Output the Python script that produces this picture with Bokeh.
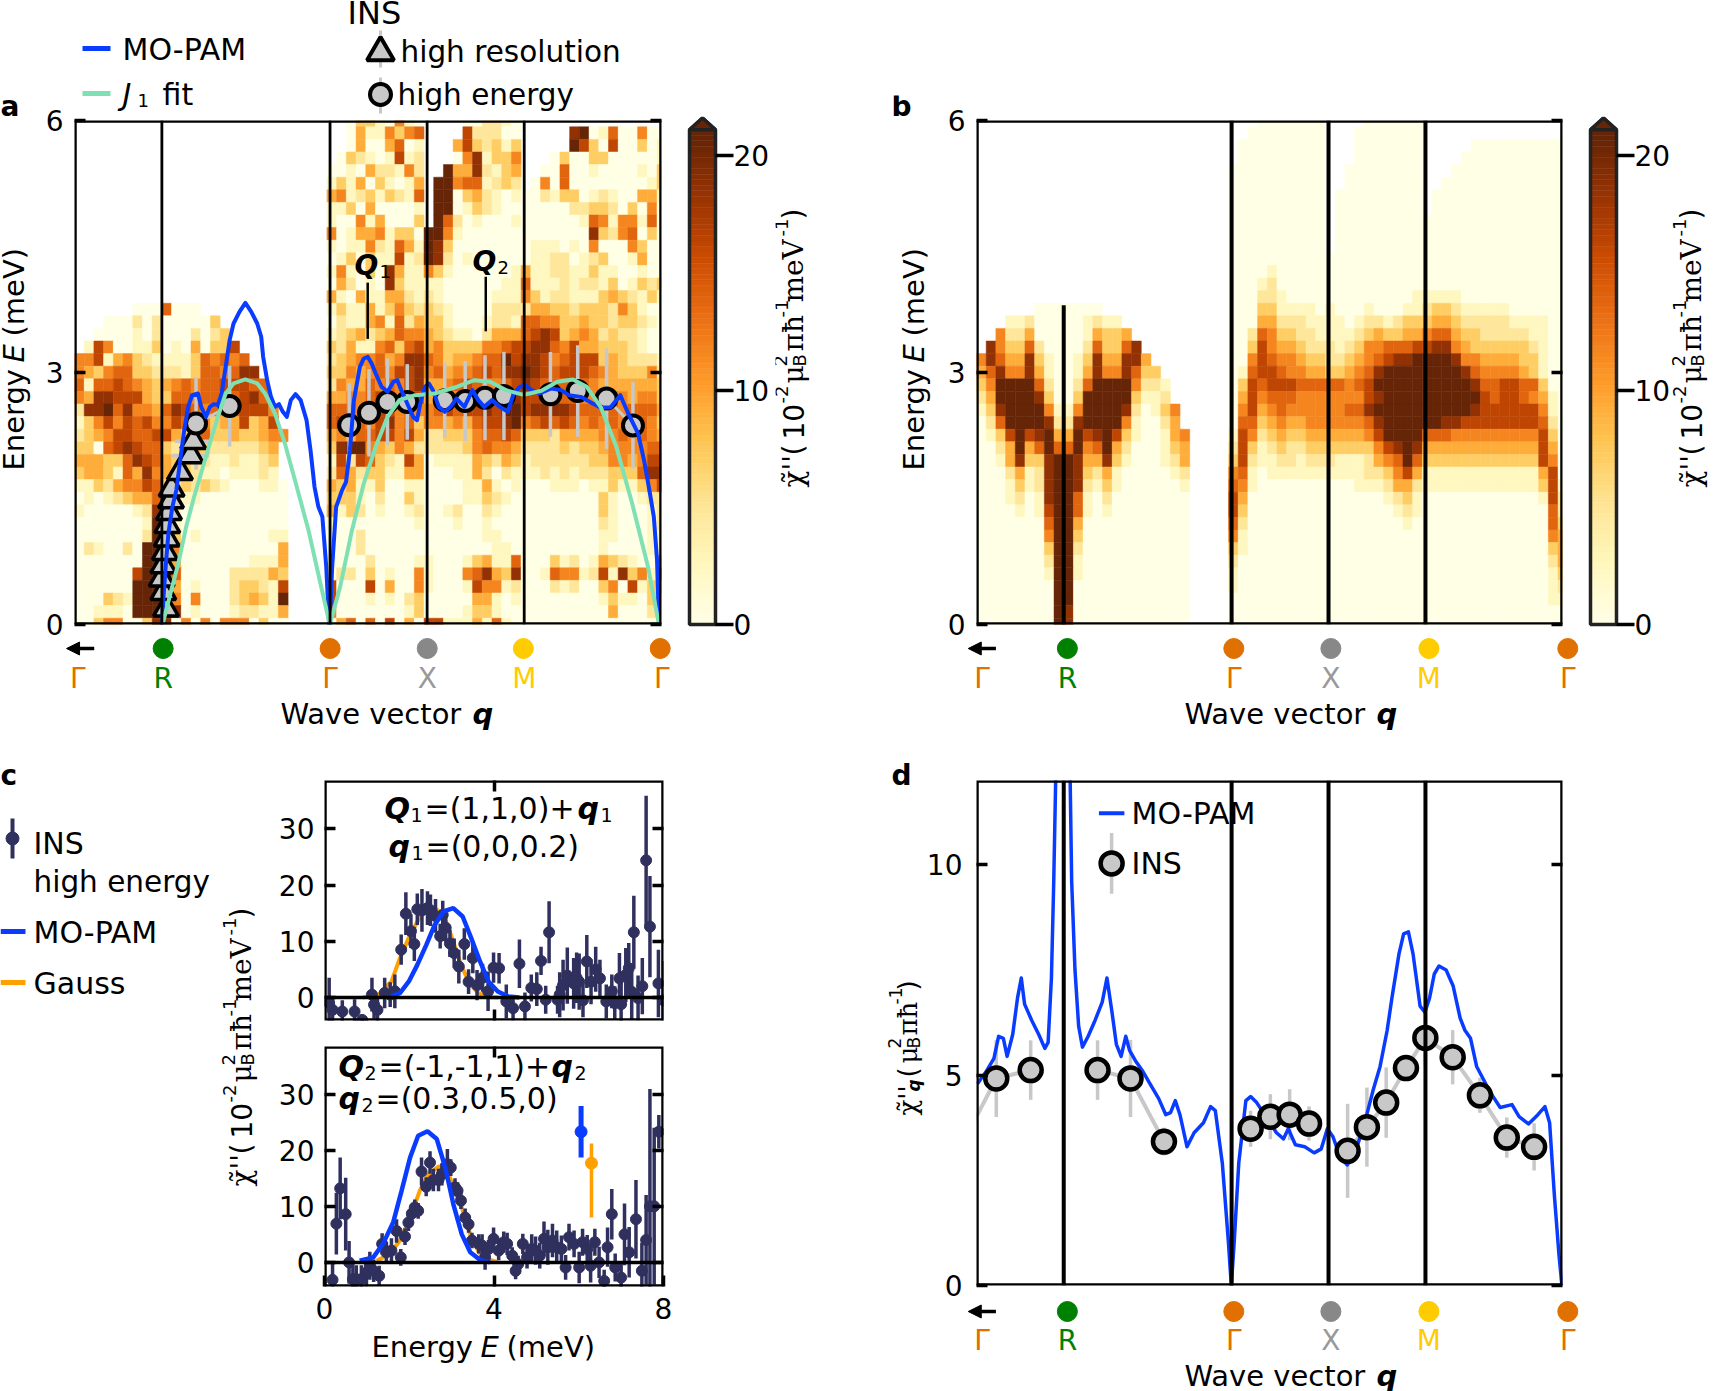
import math

import numpy as np
from bokeh.core.properties import value
from bokeh.embed import file_html
from bokeh.layouts import column, row
from bokeh.models import (Arrow, BoxAnnotation, FixedTicker, Label, LinearAxis, LinearColorMapper,
                          NormalHead, Range1d, Spacer, Span)
from bokeh.palettes import YlOrBr, interp_palette
from bokeh.plotting import figure
from bokeh.resources import INLINE
from bokeh.transform import transform

# path positions along the wave vector axis
Q_END = 6.046
Q_LINES = [0.9, 2.632, 3.632, 4.632]
Q_TEXT = ["Γ", "R", "Γ", "X", "M", "Γ"]
Q_COLORS = ["#e07000", "#008000", "#e07000", "#999999", "#ffcc00", "#e07000"]
DOT_COLORS = ["#008000", "#e07000", "#888888", "#ffcc00", "#e07000"]
LABEL_Q_A = [0.03, 0.91, 2.63, 3.63, 4.63, 6.045]
DOT_Q_A = [0.91, 2.63, 3.63, 4.62, 6.03]
LABEL_Q_B = [0.056, 0.936, 2.65, 3.65, 4.66, 6.09]
DOT_Q_B = [0.936, 2.65, 3.65, 4.66, 6.09]

# heat maps: levels 0-9 per cell, "." is no data, rows run from top (5.9+ meV) to E=0
# each row is: before Gamma | Gamma-X | X-M | M-Gamma
HEAT_A = [
    "|..03310510|....002210|",
    "|..04115356|....722200|.....8901600500",
    "|..04004601|...4732313|.....9730700301",
    "|.032101712|...0581335|...030033000001",
    "|0010422152|..94482134|..0060010000103",
    "|1314031014|.995661232|.05060000000013",
    "|4512313216|.990342101|002133012100441",
    "|1130400001|.990132100|000002233203050",
    "|1005140003|.962010001|000000165155160",
    "|5014451330|9951000000|000000083256030",
    "|1011521641|9830000000|011101050005300",
    "|0130311712|9820100000|011220123001400",
    "|1510308411|5310000001|411221131100100",
    "|0420108311|1100000011|611121221301323",
    "|4104114421|2100000111|531221113432131",
    "......0006000|1311413532|3210000222|244332333253100",
    "...000202000003|0211451624|3310001221|665533433233210",
    "..00001020002023|1234234655|4321102444|678734542322100",
    ".1750011301040337|3241156367|4533335567|788657443332100",
    "557145321111365656|2345564588|6534456697|887567773432221",
    "5435663322213665688|3354565778|5645567688|987677765433352",
    "61667654345656677766|2544656578|4456765567|876665654444443",
    "54887774336656666786|4455676567|4445677568|777766556554553",
    "288968554687656567775|6665577565|5676778799|788887666656664",
    "135757675576553447347|6776578563|5545467789|567676565657653",
    "2345776677434633433455|4546677574|2233356676|333244445565654",
    "330678766324432222234|3899543542|2222356554|222232334555566",
    "444336876433221121123|1727632174|0111143243|122222233554577",
    "344316485433211011121|2642331144|0001142021|112121222333688",
    "1132455763232321000110|4341130011|0000114101|000111011311357",
    "0101234463211000000000|3331020031|0000113210|000000003100122",
    "1000001285100000000000|4132010012|0012002100|000000003100012",
    "0000000198100000000000|1000000001|0001001000|000000002100012",
    "0000000299301000000011|0002000000|0000001100|000000001100011",
    "0210020999500000000004|0002000000|0000000110|000000001000011",
    "0000000999400000001114|1000200001|1000134116|000312014321004",
    "0000007999600000222243|0220301005|1000568438|001655127183517",
    "0000009999401000233217|7000704005|1000175512|000212003507134",
    "0003219999505000234319|7000101023|0000044101|000000001311031",
    "0011109999801000122114|5000000013|0000133100|000000000400021",
    "0035500388050505550300|0460607040|7711141610|000000000000000",
]
HEAT_B = [
    "|...0000000|....000000|",
    "|..00000000|...0000000|",
    "|.000000000|...0000000|.....0000000000",
    "|.000000000|...0000000|....00000000000",
    "|0000000000|..00000000|...000000000000",
    "|0000000000|..00000000|..0000000000000",
    "|0000000000|.000000000|.00000000000000",
    "|0000000000|.000000000|.00000000000000",
    "|0000000000|.000000000|000000000000000",
    "|0000000000|.000000000|000000000000000",
    "|0000000000|.000000000|000000000000000",
    "|0000000000|0000000000|000000000000000",
    "|0000100000|0000000000|000000000000000",
    "|0001200000|0000000000|000000000000000",
    "|0002210000|0000000001|111100000000000",
    "......0000000|0003311110|1000100011|233211111000000",
    "...112000001211|0004422211|1101221233|344322222111100",
    "..52240000014334|0026533221|1112343344|566433222221100",
    ".8533620000263368|0037544322|2123556667|788543333332100",
    "586448310013844884|0057655433|2234567889|999855444433100",
    "4685584100148558633|0167765544|3345689999|999986555543100",
    "35999962002699995221|0376777666|6656799999|999998667766300",
    "24999983003999993112|0475666555|5555789999|999999767765410",
    "138999951159999820135|0574565555|5566899999|999998777777510",
    "026999982289999510024|0663454455|5555689999|998877777777620",
    "0137978944978973100145|1752343344|4444579999|666555555555730",
    "0024946966956942000134|2731232233|3333357898|444444444444740",
    "0014833899844831000124|3721122122|2111245696|333333333333750",
    "0002412899832410000012|5610111111|1111223574|111111111111470",
    "0001312899821310000001|6510000000|0001112442|111111111111371",
    "0001201899610200000000|7400000000|0000001231|000000000000172",
    "0000101799610100000000|7300000000|0000000121|000000000000062",
    "0000000699400000000000|6200000000|0000000010|000000000000063",
    "0000000599300000000000|5100000000|0000000000|000000000000054",
    "0000000399200000000000|3100000000|0000000000|000000000000034",
    "0000000299100000000000|2000000000|0000000000|000000000000024",
    "0000000199100000000000|1000000000|0000000000|000000000000013",
    "0000000099000000000000|1000000000|0000000000|000000000000012",
    "0000000099000000000000|0000000000|0000000000|000000000000011",
    "0000000098000000000000|0000000000|0000000000|000000000000000",
    "0000000098000000000000|0000000000|0000000000|000000000000000",
]
SEGMENTS = [26, 10, 10, 15]
LEVEL_STEP = 2.3
Q_STEP = 0.1
E_STEP = 0.15

# panel a
PAM_A_Q = [0.902, 0.915, 0.939, 0.967, 1.008, 1.049, 1.089, 1.13, 1.171, 1.211, 1.272, 1.305, 1.354, 1.394, 1.435,
           1.476, 1.516, 1.557, 1.598, 1.638, 1.699, 1.76, 1.821, 1.882, 1.923, 1.943, 1.984, 2.024, 2.065, 2.106,
           2.146, 2.187, 2.228, 2.276, 2.329, 2.39, 2.431, 2.472, 2.512, 2.553, 2.593, 2.622, 2.63, 2.654, 2.695,
           2.756, 2.797, 2.837, 2.878, 2.939, 2.98, 3.02, 3.061, 3.102, 3.163, 3.224, 3.285, 3.325, 3.366, 3.427,
           3.488, 3.528, 3.569, 3.61, 3.65, 3.691, 3.752, 3.813, 3.874, 3.935, 4.016, 4.098, 4.159, 4.22, 4.301,
           4.382, 4.463, 4.524, 4.585, 4.646, 4.707, 4.789, 4.911, 5.012, 5.093, 5.215, 5.337, 5.419, 5.52, 5.622,
           5.703, 5.805, 5.866, 5.927, 5.967, 6.0, 6.02]
PAM_A_E = [0, 0.29, 0.687, 1.083, 1.4, 1.6, 1.956, 2.313, 2.591, 2.73, 2.75, 2.591, 2.472, 2.591, 2.623,
           2.611, 2.75, 3.067, 3.385, 3.583, 3.722, 3.829, 3.722, 3.583, 3.425, 3.187, 2.909, 2.71, 2.591, 2.623,
           2.532, 2.472, 2.671, 2.742, 2.671, 2.433, 2.075, 1.639, 1.401, 1.282, 0.687, 0, 0, 0.687, 1.401,
           1.6, 1.698, 2.075, 2.671, 3.067, 3.167, 3.187, 3.107, 2.988, 2.829, 2.77, 2.889, 2.909, 2.79, 2.631,
           2.472, 2.433, 2.671, 2.829, 2.869, 2.79, 2.591, 2.532, 2.591, 2.69, 2.591, 2.79, 2.671, 2.591, 2.671,
           2.591, 2.532, 2.75, 2.829, 2.849, 2.79, 2.75, 2.81, 2.79, 2.73, 2.71, 2.631, 2.583, 2.583, 2.73,
           2.512, 2.274, 1.956, 1.56, 1.282, 0.766, 0]
FIT_Q = [0.907, 0.988, 1.069, 1.15, 1.232, 1.313, 1.394, 1.476, 1.557, 1.638, 1.76, 1.882, 1.963, 2.065, 2.167,
         2.289, 2.41, 2.533, 2.63, 2.736, 2.858, 2.98, 3.102, 3.224, 3.346, 3.508, 3.711, 3.915, 4.118, 4.28,
         4.443, 4.626, 4.809, 4.972, 5.134, 5.276, 5.419, 5.581, 5.744, 5.907, 6.02]
FIT_E = [0, 0.37, 0.726, 1.163, 1.52, 1.837, 2.155, 2.472, 2.75, 2.87, 2.917, 2.87, 2.75, 2.51, 2.155,
         1.64, 1.123, 0.488, 0, 0.448, 1.123, 1.679, 2.115, 2.472, 2.67, 2.73, 2.75, 2.821, 2.909, 2.889,
         2.79, 2.734, 2.782, 2.889, 2.917, 2.83, 2.591, 2.115, 1.44, 0.687, 0]
HE_Q = [1.252, 1.598, 2.829, 3.033, 3.224, 3.427, 3.813, 4.024, 4.228, 4.423, 4.902, 5.183, 5.48, 5.752]
HE_E = [2.393, 2.6, 2.373, 2.52, 2.65, 2.65, 2.67, 2.66, 2.7, 2.72, 2.74, 2.78, 2.69, 2.37]
HE_ERR = [0.55, 0.48, 0.5, 0.52, 0.516, 0.45, 0.45, 0.476, 0.506, 0.526, 0.504, 0.544, 0.6, 0.516]
HR_Q = [0.942, 0.915, 0.898, 0.915, 0.932, 0.95, 0.956, 0.973, 0.994, 1.0, 1.086, 1.196, 1.223]
HR_E = [0.186, 0.385, 0.544, 0.702, 0.861, 1.02, 1.18, 1.337, 1.476, 1.615, 1.813, 2.012, 2.182]
HR_QERR = [0.03, 0.03, 0.03, 0.03, 0.03, 0.03, 0.03, 0.03, 0.03, 0.03, 0.05, 0.19, 0.19]
MARK_Q = [3.02, 4.236]
MARK_LOW = [3.4, 3.49]
MARK_HIGH = [4.07, 4.14]

# panel c, top
C1_E = [0.11, 0.19, 0.42, 0.71, 0.89, 1.12, 1.17, 1.25, 1.42, 1.55, 1.66, 1.81, 1.92, 2.04, 2.12, 2.19, 2.3, 2.43,
        2.5, 2.62, 2.73, 2.79, 2.86, 2.96, 3.06, 3.17, 3.3, 3.4, 3.5, 3.6, 3.73, 3.86, 3.99, 4.12, 4.29, 4.45, 4.6,
        4.73, 4.88, 5.01, 5.11, 5.22, 5.3, 5.5, 5.55, 5.63, 5.73, 5.88, 5.95, 6.01, 6.1, 6.19, 6.29, 6.4, 6.5, 6.65,
        6.78, 6.85, 6.96, 7.0, 7.11, 7.18, 7.25, 7.3, 7.4, 7.5, 7.59, 7.68, 7.88, 8.0]
C1_V = [-1.0, -2.2, -2.5, -2.5, -4, 0.5, -1.3, -2.2, 0.8, 0.5, 1.1, 8.5, 14.9, 11.8, 9.5, 15.7, 15.5, 15.9,
        15.5, 14.5, 10.9, 14.7, 12.4, 9.6, 7.9, 5.5, 9.5, 2.8, 7.0, 2.2, 3.5, 1.1, 5.3, 5.2, -0.7, -1.9, 6.0,
        -1.6, 1.7, 1.5, 6.5, -0.4, 11.6, -0.4, 0.5, 2.2, 3.9, 2.5, 3.5, 2.8, -0.5, 6.4, 2.8, 5, 3.4, -0.7,
        1.1, -1, 3.4, -1.2, 4.0, 5.2, 1, 11.6, -0.1, 2.0, 24.4, 12.6, 2.5, -0.5]
C1_ERR = [4.5, 2, 2, 2.2, 1, 3, 2.5, 2.5, 2.7, 2.2, 3, 2.7, 3.8, 3, 3, 2.8, 3.8, 3,
          2.8, 3, 2.2, 2.5, 2.5, 2.4, 2.6, 3, 2.8, 2.2, 2.7, 2.7, 2.5, 3.5, 2.7, 2.7, 3, 2.2, 4.3,
          2.5, 2.4, 3, 2.5, 2.5, 5.5, 2.5, 4, 4.5, 5, 4.5, 4.5, 5, 3, 4.7, 4, 4, 3.3, 3,
          3, 3, 4.5, 4, 4.8, 4.5, 5, 6.5, 4, 5, 11.5, 9, 6, 7]
C1_PAM_E = [1.58, 1.78, 1.99, 2.19, 2.4, 2.6, 2.81, 3.04, 3.26, 3.46, 3.67, 3.87, 4.09, 4.34, 4.6]
C1_PAM_V = [0.18, 0.77, 2.85, 5.8, 9.3, 12.9, 15.3, 15.9, 14.4, 10.6, 6.4, 2.85, 1.07, 0.18, 0]
C1_GAUSS_E = [0.9, 1.27, 1.58, 1.78, 1.99, 2.19, 2.35, 2.6, 2.81, 3.01, 3.22, 3.42, 3.63, 3.83, 4.1]
C1_GAUSS_V = [0, 0.47, 2.85, 7, 10.6, 13.5, 15.3, 15.9, 14.7, 10.6, 5.8, 2.55, 0.77, 0.06, 0]

# panel c, bottom
C2_E = [0.19, 0.28, 0.37, 0.5, 0.58, 0.67, 0.75, 0.87, 0.99, 1.07, 1.16, 1.29, 1.36, 1.46, 1.58, 1.7, 1.8, 1.9, 1.98,
        2.06, 2.13, 2.21, 2.29, 2.4, 2.49, 2.57, 2.69, 2.77, 2.9, 2.98, 3.08, 3.14, 3.22, 3.32, 3.4, 3.48, 3.64, 3.72,
        3.79, 3.87, 3.99, 4.11, 4.23, 4.31, 4.43, 4.51, 4.57, 4.68, 4.78, 4.89, 4.98, 5.08, 5.18, 5.27, 5.38, 5.48,
        5.59, 5.69, 5.77, 5.89, 6.01, 6.09, 6.2, 6.28, 6.38, 6.48, 6.6, 6.68, 6.78, 6.86, 7.0, 7.08, 7.19, 7.35, 7.49,
        7.59, 7.68, 7.78, 7.89]
C2_V = [-3.1, 6.9, 13.2, 8.6, 0, -3, -3, -3, -1.8, -0.6, -1.5, -2.4, 3.3, 1.8, 2.1, 5.6, 0.9, 4.6, 7.1,
        8.7, 9.8, 9.2, 16.2, 13.5, 17.8, 14.7, 14.7, 15.7, 17.5, 16.9, 13.4, 12.8, 11, 8, 6.8, 3.9, 3.3, 3,
        0.9, 2.4, 4.2, 2.1, 3.6, 3.3, 1.2, -1.5, -0.3, 3.3, 0.9, 2.4, 2.1, 1.2, 4.2, 2.7, 3.9, 2.7,
        2.4, -0.9, 4.5, 3.3, -0.9, 3.6, 2.4, -0.6, 3.6, 0, -3.3, 2.7, 8.6, -0.9, -2.7, 5, 1.8, 7.7, -1.5,
        4, 10, 10, 23.3]
C2_ERR = [3, 5.5, 5.5, 6.5, 3.8, 2.5, 2.5, 2.5, 2.5, 2.5, 2, 1.8, 1.9, 1.8, 2.2, 2.1, 1.5, 1.5, 1.5,
          1.5, 1.4, 1.4, 2.5, 1.7, 2, 2, 2, 2, 2.7, 1.5, 1.6, 1.5, 1.5, 1.6, 1.5, 1.4, 1.7, 2,
          2.2, 1.6, 2, 1.7, 1.9, 2, 1.5, 1.5, 1.5, 1.8, 2, 2.6, 2.5, 2.3, 3.1, 3.1, 3, 3,
          2.4, 2.2, 2.4, 2.4, 2.8, 2.4, 2.5, 3, 2.4, 2.8, 2, 3.5, 4.5, 2.5, 2.5, 5.5, 4.5, 7, 5,
          8, 20.9, 14, 3]
C2_PAM_E = [0.83, 1.15, 1.38, 1.62, 1.82, 2.02, 2.21, 2.43, 2.65, 2.85, 3.04, 3.24, 3.44, 3.68, 3.91]
C2_PAM_V = [0.3, 0.9, 3.3, 7.1, 12.8, 18.7, 22.6, 23.4, 22, 16.9, 10.4, 5, 1.8, 0.4, 0]
C2_GAUSS_E = [1.23, 1.54, 1.78, 2.02, 2.25, 2.45, 2.69, 2.89, 3.04, 3.24, 3.44, 3.64, 3.83, 4.07]
C2_GAUSS_V = [0.3, 1.5, 3.9, 8, 12.8, 15.7, 17.1, 16.6, 13.4, 9.8, 5, 1.8, 0.6, 0.1]
PEAK_E = [6.055, 6.3]
PEAK_V = [23.3, 17.7]
PEAK_LOW = [18.7, 8.0]
PEAK_HIGH = [27.9, 21.2]

# panel d
PAM_D_Q = [0.01, 0.107, 0.18, 0.228, 0.277, 0.316, 0.374, 0.423, 0.462, 0.496, 0.569, 0.641, 0.705, 0.739, 0.773,
           0.797, 0.825, 0.96, 0.982, 1.016, 1.054, 1.093, 1.152, 1.224, 1.297, 1.346, 1.395, 1.443, 1.492, 1.54,
           1.579, 1.638, 1.71, 1.783, 1.88, 1.953, 2.002, 2.051, 2.099, 2.172, 2.245, 2.342, 2.415, 2.464, 2.536,
           2.6, 2.629, 2.658, 2.706, 2.779, 2.828, 2.891, 2.974, 3.095, 3.168, 3.217, 3.29, 3.387, 3.484, 3.557,
           3.62, 3.678, 3.751, 3.824, 3.897, 3.994, 4.091, 4.164, 4.237, 4.286, 4.359, 4.407, 4.456, 4.504, 4.577,
           4.626, 4.674, 4.723, 4.772, 4.845, 4.918, 4.99, 5.039, 5.097, 5.16, 5.258, 5.33, 5.403, 5.525, 5.598,
           5.695, 5.792, 5.865, 5.913, 5.962, 6.01, 6.04]
PAM_D_V = [4.795, 5.11, 5.396, 5.92, 5.874, 5.444, 5.969, 6.829, 7.307, 6.686, 6.304, 5.969, 5.635, 5.778, 7.307,
           9.599, 13, 13, 9.6, 7.498, 6.16, 5.664, 5.922, 6.304, 6.734, 7.307, 6.543, 5.731, 5.444, 5.922,
           5.587, 5.349, 5.11, 4.823, 4.441, 4.059, 4.107, 4.394, 4.059, 3.295, 3.629, 3.868, 4.25, 4.155, 2.913,
           1.003, 0, 1.003, 2.913, 4.394, 4.489, 4.346, 4.059, 3.629, 3.486, 3.725, 3.343, 3.295, 3.152, 3.247,
           3.725, 3.534, 3.056, 2.865, 3.104, 3.773, 4.632, 5.205, 6.065, 6.829, 7.88, 8.357, 8.405, 7.88, 6.638,
           6.495, 6.829, 7.402, 7.593, 7.498, 7.116, 6.352, 6.065, 5.874, 5.205, 4.776, 4.489, 4.231, 4.298, 4.011,
           3.84, 4.059, 4.25, 3.868, 2.149, 0.716, 0]
INS_Q = [0.204, 0.559, 1.249, 1.589, 1.934, 2.828, 3.032, 3.231, 3.431, 3.829, 4.028, 4.227, 4.431, 4.631, 4.913,
         5.194, 5.471, 5.753]
INS_V = [4.919, 5.119, 5.119, 4.919, 3.419, 3.725, 4.011, 4.059, 3.849, 3.2, 3.763, 4.346, 5.167, 5.883, 5.425,
         4.518, 3.515, 3.295]
INS_ERR = [0.917, 0.707, 0.707, 0.917, 0.33, 0.43, 0.535, 0.606, 0.406, 1.117, 0.94, 0.836, 0.31, 0.645, 0.645,
           0.415, 0.478, 0.563]
INS_START = (-0.15, 3.35)  # previous point, off the left edge
INS_RUNS = [(0, 2), (2, 5), (5, 9), (9, 18)]

BLUE = "#0a3cff"
GREEN = "#7fe0b4"
GOLD = "#ffa000"
NAVY = "#30305f"
GRAY = "#c8c8c8"
FONT = "DejaVu Sans"
SERIF = "DejaVu Serif"
SCALE = 587 / Q_END

palette = YlOrBr[9][::-1]
smooth = interp_palette(palette, 256)
mapper = LinearColorMapper(palette=smooth, low=0, high=9 * LEVEL_STEP)
origin = {}


def make(ox, oy, w, h, left=0, top=0, right=0, bottom=0, xr=(0, 1), yr=(0, 1), **kw):
    p = figure(width=w, height=h, frame_width=w - left - right, frame_height=h - top - bottom,
               min_border_left=left, min_border_top=top, min_border_right=right, min_border_bottom=bottom,
               x_range=Range1d(*xr), y_range=Range1d(*yr), x_axis_location=None, y_axis_location=None,
               toolbar_location=None, output_backend="svg", background_fill_color=None, border_fill_color=None, **kw)
    p.grid.visible = False
    p.outline_line_color = None
    origin[id(p)] = (ox, oy)
    return p


def box(p):
    # frame drawn over the marks
    p.add_layout(BoxAnnotation(fill_color=None, line_color="black", line_alpha=1, line_width=4.5))


def lab(p, x, y, text, size=30, style="normal", color="black", font=FONT, angle=0):
    # Label is only drawn inside a frame, so outside texts live in figures whose frame is the whole canvas
    ox, oy = origin[id(p)]
    if angle:
        x -= 9
    else:
        y -= 9
    p.add_layout(Label(x=x - ox, y=y - oy, x_units="canvas", y_units="canvas", text=text,
                       text_font=font, text_font_size=f"{size}px", text_font_style=style, text_color=color,
                       angle=angle, text_baseline="alphabetic"))


def rich(p, x, y, parts, vertical=False):
    # parts: text, advance in px, size, shift above baseline, style, font
    for text, adv, size, shift, style, font in parts:
        if vertical:
            lab(p, x - shift, y, text, size, style, font=font, angle=math.pi / 2)
            y -= adv
        else:
            lab(p, x, y - shift, text, size, style, font=font)
            x += adv


def ticks(p, side, values, labelled=True, size="28px", standoff=6):
    ax = LinearAxis(ticker=FixedTicker(ticks=values), axis_line_color=None, major_tick_in=11, major_tick_out=0,
                    major_tick_line_width=3.5, minor_tick_line_color=None, major_label_text_font=FONT,
                    major_label_text_font_size=size, major_label_text_color="black", major_label_standoff=standoff)
    if not labelled:
        ax.major_label_overrides = {v: "" for v in values}
    p.add_layout(ax, side)
    return ax


def heat(p, rows):
    left, right, bottom, top, vals = [], [], [], [], []
    for i, text in enumerate(rows):
        k = len(rows) - 1 - i
        cells = "".join(s.ljust(n, ".")[:n] for s, n in zip(text.split("|"), SEGMENTS))
        for c, ch in enumerate(cells):
            if ch == ".":
                continue
            left.append(c * Q_STEP)
            right.append((c + 1) * Q_STEP)
            bottom.append((k - 0.5) * E_STEP)
            top.append((k + 0.5) * E_STEP)
            vals.append(int(ch) * LEVEL_STEP)
    data = dict(left=left, right=right, bottom=bottom, top=top, v=vals)
    p.quad(left="left", right="right", bottom="bottom", top="top", source=data,
           fill_color=transform("v", mapper), line_color=transform("v", mapper), line_width=0.5)


def strip(ox, oy, w, h, fr_left, label_q, dot_q, dot_y, label_y, title_x, title_y):
    xr = ((ox - fr_left) / SCALE, (ox + w - fr_left) / SCALE)
    p = make(ox, oy, w, h, xr=xr, yr=(oy + h, oy))
    p.scatter(dot_q, [dot_y] * len(dot_q), size=20, color=DOT_COLORS)
    p.text(label_q, [label_y] * len(label_q), text=Q_TEXT, text_color=Q_COLORS, text_font=value(FONT),
           text_font_size="28px", text_align="center", text_baseline="middle")
    p.add_layout(Arrow(x_start=0.2, y_start=dot_y, x_end=-0.085, y_end=dot_y, line_width=3.5,
                       end=NormalHead(size=13, fill_color="black", line_color="black")))
    rich(p, title_x, title_y, [("Wave vector", 192, 29, 0, "normal", FONT), ("q", 20, 29, 0, "bold italic", FONT)])
    return p


def chi_label(p, x, y):
    rich(p, x, y, [("χ̃''", 32, 28, 0, "normal", SERIF), ("(", 16, 28, 0, "normal", FONT), ("10", 36, 28, 0, "normal", FONT),
                   ("-2", 20, 18, 12, "normal", FONT), ("μ", 17, 28, 0, "normal", SERIF)], vertical=True)
    rich(p, x, y - 121, [("2", 0, 18, 13, "normal", FONT), ("B", 15, 18, -6, "normal", FONT),
                         ("πħ", 34, 28, 0, "normal", SERIF), ("-1", 15, 18, 12, "normal", FONT),
                         ("meV", 66, 28, 0, "normal", SERIF), ("-1", 17, 18, 12, "normal", FONT),
                         (")", 12, 28, 0, "normal", FONT)], vertical=True)


def colorbar(ox, oy, w, h):
    px = 469 / 20
    p = make(ox, oy, w, h, left=0, top=116 - oy, right=w - 34, bottom=oy + h - 628,
             xr=(-4 / 26, 30 / 26), yr=(-4 / px, (624 - 116) / px))
    edges = np.linspace(0, 21.1, 90)
    data = dict(bottom=edges[:-1], top=edges[1:], v=edges[:-1])
    p.quad(left=0, right=1, bottom="bottom", top="top", source=data,
           fill_color=transform("v", mapper), line_color=transform("v", mapper), line_width=0.5)
    p.patch([0, 1, 1, 0.5, 0, 0], [0, 0, 21.1, 21.6, 21.1, 0], fill_color=None, line_color="#222222", line_width=3.5)
    p.patch([0, 1, 0.5], [21.1, 21.1, 21.6], fill_color=palette[-1], line_color="#222222", line_width=3.5)
    ax = ticks(p, "right", [0, 10, 20], standoff=0)
    ax.major_tick_in = 4
    ax.major_tick_out = 14
    return p


def vlines(p, width, skip=None):
    for q in Q_LINES:
        if q != skip:
            p.add_layout(Span(location=q, dimension="height", line_color="black", line_width=width))


def energy_parts():
    return [("Energy", 108, 29, 0, "normal", FONT), ("E", 26, 29, 0, "italic", FONT), ("(meV)", 90, 29, 0, "normal", FONT)]


# panel a -----------------------------------------------------------------------------------------------------------
head = make(0, 0, 685, 120, xr=(0, 685), yr=(120, 0))
head.line([82, 110], [48, 48], line_color=BLUE, line_width=5)
head.line([82, 110], [93, 93], line_color=GREEN, line_width=5)
lab(head, 122, 58, "MO-PAM")
rich(head, 122, 103, [("J", 15, 30, 0, "italic", FONT), ("1", 25, 18, -6, "normal", FONT), ("fit", 40, 30, 0, "normal", FONT)])
lab(head, 347, 21, "INS", 32)
head.segment([380, 380], [30, 77], [380, 380], [67, 113], line_color=GRAY, line_width=3)
head.scatter([380], [52], marker="triangle", size=27, fill_color=GRAY, line_color="black", line_width=4)
head.scatter([380], [94], size=21, fill_color=GRAY, line_color="black", line_width=4)
lab(head, 400, 60, "high resolution", 29.5)
lab(head, 397, 103, "high energy", 29.5)

lab_a = make(0, 95, 32, 541)
lab(lab_a, 0, 115, "a", 28, "bold")
rich(lab_a, 22, 470, energy_parts(), vertical=True)

fig_a = make(32, 95, 653, 541, left=42, top=25, right=24, bottom=12, xr=(0, Q_END), yr=(0, 6))
heat(fig_a, HEAT_A)
ticks(fig_a, "left", [0, 3, 6], standoff=11)
ticks(fig_a, "right", [0, 3, 6], labelled=False)
vlines(fig_a, 2.8)
fig_a.segment(MARK_Q, MARK_LOW, MARK_Q, MARK_HIGH, line_color="black", line_width=2.5)
fig_a.segment(HE_Q, np.array(HE_E) - HE_ERR, HE_Q, np.array(HE_E) + HE_ERR, line_color=GRAY, line_width=3.5)
fig_a.segment(np.array(HR_Q) - HR_QERR, HR_E, np.array(HR_Q) + HR_QERR, HR_E, line_color=GRAY, line_width=3.5)
fig_a.line(HE_Q[:2], HE_E[:2], line_color=GRAY, line_width=3)
fig_a.line(HE_Q[-2:], HE_E[-2:], line_color=GRAY, line_width=3)
fig_a.scatter(HR_Q, HR_E, marker="triangle", size=25, fill_color=GRAY, line_color="black", line_width=3.5)
fig_a.scatter(HE_Q, HE_E, size=20, fill_color=GRAY, line_color="black", line_width=4)
fig_a.line(PAM_A_Q, PAM_A_E, line_color=BLUE, line_width=4, line_join="round")
fig_a.line(FIT_Q, FIT_E, line_color=GREEN, line_width=4, line_join="round")
box(fig_a)
rich(fig_a, 354, 274, [("Q", 25, 28, 0, "bold italic", FONT), ("1", 12, 18, -6, "normal", FONT)])
rich(fig_a, 472, 270, [("Q", 25, 28, 0, "bold italic", FONT), ("2", 12, 18, -6, "normal", FONT)])

strip_a = strip(0, 636, 685, 94, 74.3, LABEL_Q_A, DOT_Q_A, 648, 678, 280, 722)
cb_a = colorbar(685, 95, 90, 541)
chi_a = make(775, 95, 65, 541)
chi_label(chi_a, 802, 487)

# panel b -----------------------------------------------------------------------------------------------------------
lab_b = make(840, 95, 92, 541)
lab(lab_b, 891, 115, "b", 28, "bold")
rich(lab_b, 922, 470, energy_parts(), vertical=True)

fig_b = make(932, 95, 654, 541, left=44, top=25, right=24, bottom=12, xr=(0, Q_END), yr=(0, 6))
heat(fig_b, HEAT_B)
ticks(fig_b, "left", [0, 3, 6], standoff=11)
ticks(fig_b, "right", [0, 3, 6], labelled=False)
vlines(fig_b, 4, skip=0.9)
fig_b.segment([0.9], [0], [0.9], [3.8], line_color="black", line_width=4)
box(fig_b)
strip_b = strip(840, 636, 746, 94, 976, LABEL_Q_B, DOT_Q_B, 648, 678, 1184, 722)
cb_b = colorbar(1586, 95, 90, 541)
chi_b = make(1671, 95, 43, 541)
chi_b_wrap = row(chi_b, margin=(0, 0, 0, -5))
chi_label(chi_b, 1700, 487)

# panel c -----------------------------------------------------------------------------------------------------------
leg_c = make(0, 730, 265, 661, xr=(0, 265), yr=(1391, 730))
leg_c.segment([12], [818], [12], [858], line_color=NAVY, line_width=4)
leg_c.scatter([12], [838], size=13, color=NAVY)
leg_c.line([0, 25], [931, 931], line_color=BLUE, line_width=5)
leg_c.line([0, 25], [982, 982], line_color=GOLD, line_width=5)
lab(leg_c, 0, 784, "c", 28, "bold")
lab(leg_c, 33, 852, "INS")
lab(leg_c, 33, 890, "high energy", 29.5)
lab(leg_c, 33, 941, "MO-PAM")
lab(leg_c, 33, 992, "Gauss")
chi_label(leg_c, 250, 1186)


def panel_c(oy, h, top, bottom, yr, e, v, err, pam_e, pam_v, gauss_e, gauss_v):
    p = make(265, oy, 425, h, left=59, top=top, right=27, bottom=bottom, xr=(0, 8), yr=yr)
    ticks(p, "left", [0, 10, 20, 30], standoff=10)
    ticks(p, "right", [0, 10, 20, 30], labelled=False)
    ticks(p, "above", [4], labelled=False)
    p.line(gauss_e, gauss_v, line_color=GOLD, line_width=4)
    p.segment(e, np.array(v) - err, e, np.array(v) + err, line_color=NAVY, line_width=3.5)
    p.scatter(e, v, size=11, color=NAVY)
    p.line(pam_e, pam_v, line_color=BLUE, line_width=4.5)
    p.add_layout(Span(location=0, dimension="width", line_color="black", line_width=3.5))
    box(p)
    return p


c_top = panel_c(730, 303, 50, 13, (-4.1, 38.6), C1_E, C1_V, C1_ERR, C1_PAM_E, C1_PAM_V, C1_GAUSS_E, C1_GAUSS_V)
ticks(c_top, "below", [4], labelled=False)
rich(c_top, 384, 817, [("Q", 26, 30, 0, "bold italic", FONT), ("1", 14, 19, -6, "normal", FONT),
                       ("=(1,1,0)+", 153, 30, 0, "normal", FONT), ("q", 23, 30, 0, "bold italic", FONT),
                       ("1", 12, 19, -6, "normal", FONT)])
rich(c_top, 388, 855, [("q", 23, 30, 0, "bold italic", FONT), ("1", 14, 19, -6, "normal", FONT),
                       ("=(0,0,0.2)", 158, 30, 0, "normal", FONT)])

c_bot = panel_c(1033, 295, 13, 42, (-4.3, 38.5), C2_E, C2_V, C2_ERR, C2_PAM_E, C2_PAM_V, C2_GAUSS_E, C2_GAUSS_V)
x_ax = ticks(c_bot, "below", [0, 4, 8], standoff=11)
c_bot.segment(PEAK_E, PEAK_LOW, PEAK_E, PEAK_HIGH, line_color=[BLUE, GOLD], line_width=[5, 3.5])
c_bot.scatter(PEAK_E, PEAK_V, size=12, color=[BLUE, GOLD])
rich(c_bot, 338, 1075, [("Q", 26, 30, 0, "bold italic", FONT), ("2", 14, 19, -6, "normal", FONT),
                        ("=(-1,-1,1)+", 173, 30, 0, "normal", FONT), ("q", 23, 30, 0, "bold italic", FONT),
                        ("2", 12, 19, -6, "normal", FONT)])
rich(c_bot, 338, 1107, [("q", 23, 30, 0, "bold italic", FONT), ("2", 14, 19, -6, "normal", FONT),
                        ("=(0.3,0.5,0)", 188, 30, 0, "normal", FONT)])
lab_e = make(265, 1328, 425, 63)
rich(lab_e, 371, 1355, [("Energy", 109, 29, 0, "normal", FONT), ("E", 26, 29, 0, "italic", FONT),
                        ("(meV)", 90, 29, 0, "normal", FONT)])

# panel d -----------------------------------------------------------------------------------------------------------
lab_d = make(840, 730, 85, 566)
lab(lab_d, 891, 784, "d", 28, "bold")
rich(lab_d, 916, 1115, [("χ̃''", 24, 26, 0, "normal", SERIF), ("q", 14, 17, -6, "bold italic", FONT),
                        ("(", 14, 26, 0, "normal", FONT), ("μ", 15, 26, 0, "normal", SERIF),
                        ("2", 0, 17, 13, "normal", FONT), ("B", 13, 17, -6, "normal", FONT),
                        ("πħ", 31, 26, 0, "normal", SERIF), ("-1", 14, 17, 12, "normal", FONT),
                        (")", 10, 26, 0, "normal", FONT)], vertical=True)

# starts a little inside lab_d: the tick labels need the room and the canvas is transparent
fig_d = make(915, 730, 671, 566, left=61, top=50, right=24, bottom=11, xr=(0, Q_END), yr=(0, 12))
fig_d.margin = (0, 0, 0, -10)
ticks(fig_d, "left", [0, 5, 10], standoff=14)
ticks(fig_d, "right", [0, 5, 10], labelled=False)
vlines(fig_d, 4)
fig_d.quad(left=[2.58], right=[2.68], bottom=[10.7], top=[11.85], fill_color="white", fill_alpha=0.85, line_color=None)
runs_x, runs_y = [], []
for a, b in INS_RUNS:
    runs_x.append(INS_Q[a:b])
    runs_y.append(INS_V[a:b])
runs_x[0] = [INS_START[0]] + runs_x[0]
runs_y[0] = [INS_START[1]] + runs_y[0]
fig_d.multi_line(runs_x, runs_y, line_color=GRAY, line_width=4)
fig_d.segment(INS_Q, np.array(INS_V) - INS_ERR, INS_Q, np.array(INS_V) + INS_ERR, line_color=GRAY, line_width=3.5)
fig_d.line(PAM_D_Q, PAM_D_V, line_color=BLUE, line_width=3.5, line_join="round")
fig_d.scatter(INS_Q, INS_V, size=22, fill_color=GRAY, line_color="black", line_width=4.5)
fig_d.line([1.263, 1.526], [11.22, 11.22], line_color=BLUE, line_width=4)
fig_d.segment([1.394], [9.31], [1.394], [10.75], line_color=GRAY, line_width=3.5)
fig_d.scatter([1.394], [10.03], size=22, fill_color=GRAY, line_color="black", line_width=4.5)
fig_d.text([1.6, 1.6], [11.22, 10.03], text=["MO-PAM", "INS"], text_font=value(FONT), text_font_size="30px",
           text_baseline="middle")
box(fig_d)
strip_d = strip(840, 1296, 746, 95, 976, LABEL_Q_B, DOT_Q_B, 1311, 1340, 1184, 1384)

# page --------------------------------------------------------------------------------------------------------------
# text figures and strips sit in rows of their own, else bokeh lines up their frames with the panels beside them
col_a = column(row(head), row(row(lab_a), fig_a, spacing=0, margin=(-25, 0, 0, 0)), row(strip_a), spacing=0)
col_cb_a = column(Spacer(width=155, height=95), row(cb_a, row(chi_a), spacing=0), spacing=0)
col_b = column(Spacer(width=746, height=95), row(row(lab_b), fig_b, spacing=0), row(strip_b), spacing=0)
col_cb_b = column(Spacer(width=128, height=95), row(cb_b, chi_b_wrap, spacing=0), spacing=0)
top_row = row(col_a, col_cb_a, col_b, col_cb_b, spacing=0)
bottom_row = row(leg_c, column(c_top, c_bot, row(lab_e), spacing=0), Spacer(width=150, height=661),
                 column(row(row(lab_d), fig_d, spacing=0), row(strip_d), spacing=0), spacing=0)
page = column(top_row, bottom_row, spacing=0, margin=(0, 0, 0, 0))

open("out.html", "w").write(file_html(page, INLINE))
